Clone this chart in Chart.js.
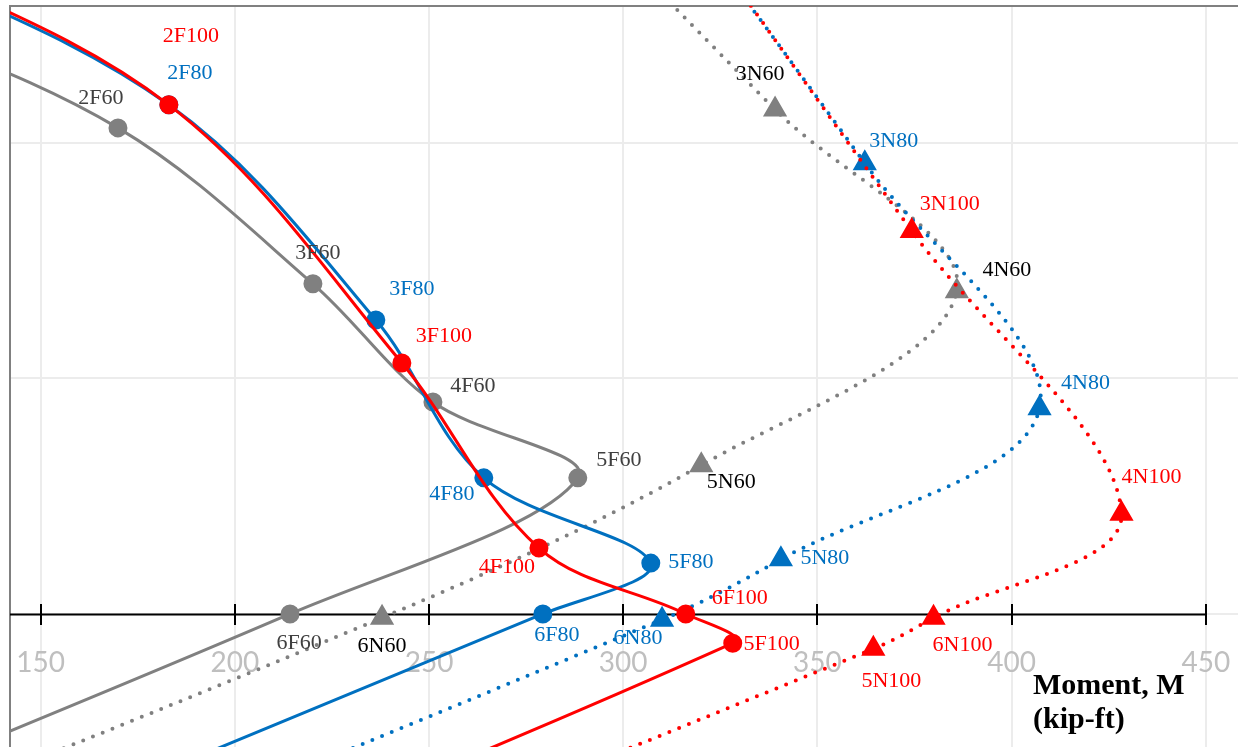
<!DOCTYPE html>
<html lang="en">
<head>
  <meta charset="UTF-8">
  <title>Interaction diagram</title>
  <script src="https://cdn.jsdelivr.net/npm/chart.js@4.4.1/dist/chart.umd.min.js"></script>
  <style>
    html, body { margin: 0; padding: 0; background: #fff; overflow: hidden; }
    canvas { display: block; }
  </style>
</head>
<body>
  <canvas id="diagram" width="1238" height="747"></canvas>

  <script>
    // Moment M (kip-ft) and axial load P (kips) for each curve
    // first / last points lie outside the visible window (curve continues off chart)
    const f60M = [100, 169.9, 220.1, 251.0, 288.3, 214.2, 0];
    const f60P = [1291, 1032, 701, 450, 289, 0, -728];
    const f60Names = ['', '2F60', '3F60', '4F60', '5F60', '6F60', ''];

    const f80M = [100, 183.0, 236.3, 264.1, 307.1, 279.3, 0];
    const f80P = [1430, 1081, 624, 289, 108, 0, -949];
    const f80Names = ['', '2F80', '3F80', '4F80', '5F80', '6F80', ''];

    const f100M = [100, 183.0, 243.0, 278.3, 316.1, 328.2, 0];
    const f100P = [1440, 1081, 533, 140, 0, -62, -1166];
    const f100Names = ['', '2F100', '3F100', '4F100', '6F100', '5F100', ''];

    const n60M = [283.7, 339.1, 385.9, 320.1, 237.9, 0];
    const n60P = [1537, 1071, 685, 316, -8, -795];
    const n60Names = ['', '3N60', '4N60', '5N60', '6N60', ''];

    const n80M = [314.6, 362.2, 407.2, 340.6, 310.0, 0];
    const n80P = [1495, 957, 437, 116, -12, -1061];
    const n80Names = ['', '3N80', '4N80', '5N80', '6N80', ''];

    const n100M = [317.2, 374.3, 428.3, 379.9, 364.4, 0];
    const n100P = [1473, 813, 213, -8, -74, -1288];
    const n100Names = ['', '3N100', '4N100', '6N100', '5N100', ''];

    const momentTicks = [150, 200, 250, 300, 350, 400, 450];
    const axialGrid = [0, 500, 1000];

    // where each point label sits relative to its marker (px)
    const labelShift = {
      '2F60': [-17, -30], '3F60': [5, -31], '4F60': [40, -16], '5F60': [41, -18], '6F60': [9, 29],
      '2F80': [21, -32], '3F80': [36, -31], '4F80': [-32, 16], '5F80': [40, -1], '6F80': [14, 21],
      '2F100': [22, -69], '3F100': [42, -27], '4F100': [-32, 19], '6F100': [54, -16], '5F100': [39, 1],
      '3N60': [-15, -35], '4N60': [50, -21], '5N60': [30, 17], '6N60': [0, 28],
      '3N80': [29, -22], '4N80': [46, -25], '5N80': [44, -1], '6N80': [-24, 19],
      '3N100': [38, -27], '4N100': [30, -36], '6N100': [29, 27], '5N100': [18, 32]
    };

    const GRAY = '#808080', BLUE = '#0070C0', RED = '#FF0000';

    function serie(m, p, names, color, textColor, dotted) {
      return {
        data: m.map((v, i) => ({ x: v, y: p[i] })),
        pointNames: names,
        textColor: textColor,
        showLine: true,
        borderColor: color,
        backgroundColor: color,
        borderWidth: dotted ? 4 : 3,
        borderDash: dotted ? [0, 10.5] : [],
        borderCapStyle: dotted ? 'round' : 'butt',
        tension: 0.35,
        pointStyle: dotted ? 'triangle' : 'circle',
        pointRadius: ctx => names[ctx.dataIndex] ? (dotted ? 12 : 8.5) : 0,
        pointBorderWidth: 2,
        pointBorderColor: color,
        pointBackgroundColor: color
      };
    }

    // black axis along P = 0 with ticks crossing it
    const zeroAxis = {
      id: 'zeroAxis',
      beforeDatasetsDraw(chart) {
        const { ctx, chartArea, scales: { x, y } } = chart;
        const y0 = Math.round(y.getPixelForValue(0)) + 0.5;
        ctx.save();
        ctx.strokeStyle = '#000';
        ctx.lineWidth = 2;
        ctx.beginPath();
        ctx.moveTo(chartArea.left, y0);
        ctx.lineTo(x.getPixelForValue(momentTicks[momentTicks.length - 1]), y0);
        momentTicks.forEach(v => {
          const px = Math.round(x.getPixelForValue(v));
          ctx.moveTo(px, y0 - 10.5);
          ctx.lineTo(px, y0 + 10.5);
        });
        ctx.stroke();
        ctx.restore();
      }
    };

    // point names next to markers + axis title
    const pointLabels = {
      id: 'pointLabels',
      afterDatasetsDraw(chart) {
        const ctx = chart.ctx;
        ctx.save();
        ctx.font = '22px "Liberation Serif", "Times New Roman", serif';
        ctx.textAlign = 'center';
        ctx.textBaseline = 'middle';
        chart.data.datasets.forEach((ds, i) => {
          const meta = chart.getDatasetMeta(i);
          ctx.fillStyle = ds.textColor;
          meta.data.forEach((pt, j) => {
            const name = ds.pointNames[j];
            if (!name) return;
            const s = labelShift[name] || [0, -20];
            ctx.fillText(name, pt.x + s[0], pt.y + s[1]);
          });
        });
        ctx.fillStyle = '#000';
        ctx.textAlign = 'left';
        ctx.font = 'bold 30px "Liberation Serif", "Times New Roman", serif';
        ctx.fillText('Moment, M', 1033, 686);
        ctx.fillText('(kip-ft)', 1033, 720);
        ctx.restore();
      }
    };

    const ctx = document.getElementById('diagram').getContext('2d');
    new Chart(ctx, {
      type: 'scatter',
      data: {
        datasets: [
          serie(f100M, f100P, f100Names, RED, RED, false),
          serie(f80M, f80P, f80Names, BLUE, BLUE, false),
          serie(f60M, f60P, f60Names, GRAY, '#404040', false),
          serie(n100M, n100P, n100Names, RED, RED, true),
          serie(n80M, n80P, n80Names, BLUE, BLUE, true),
          serie(n60M, n60P, n60Names, GRAY, '#000000', true)
        ]
      },
      options: {
        responsive: false,
        animation: false,
        events: [],
        layout: { autoPadding: false, padding: { left: 10, top: 6, right: 0, bottom: 0 } },
        elements: { line: { capBezierPoints: false } },
        plugins: {
          legend: { display: false },
          tooltip: { enabled: false }
        },
        scales: {
          x: {
            type: 'linear',
            min: 142.1,
            max: 458.3,
            position: { y: 0 },
            afterBuildTicks: axis => { axis.ticks = momentTicks.map(v => ({ value: v })); },
            afterFit: axis => {
              axis.paddingLeft = 0; axis.paddingRight = 0;
              axis.paddingTop = 0; axis.paddingBottom = 0;
            },
            grid: { color: '#ececec', lineWidth: 2, drawTicks: false },
            border: { display: false },
            ticks: {
              padding: 32,
              color: '#bfbfbf',
              font: { family: 'Lato', size: 28 }
            }
          },
          y: {
            type: 'linear',
            min: -282.4,
            max: 1290.8,
            afterBuildTicks: axis => {
              axis.ticks = axialGrid.concat([axis.max]).map(v => ({ value: v }));
            },
            afterFit: axis => {
              axis.width = 0;
              axis.paddingTop = 0; axis.paddingBottom = 0;
            },
            grid: {
              color: c => (c.tick && c.tick.value === 1290.8) ? GRAY : '#ececec',
              lineWidth: 2,
              drawTicks: false
            },
            border: { color: GRAY, width: 2 },
            ticks: { display: false }
          }
        }
      },
      plugins: [zeroAxis, pointLabels]
    });
  </script>
</body>
</html>
